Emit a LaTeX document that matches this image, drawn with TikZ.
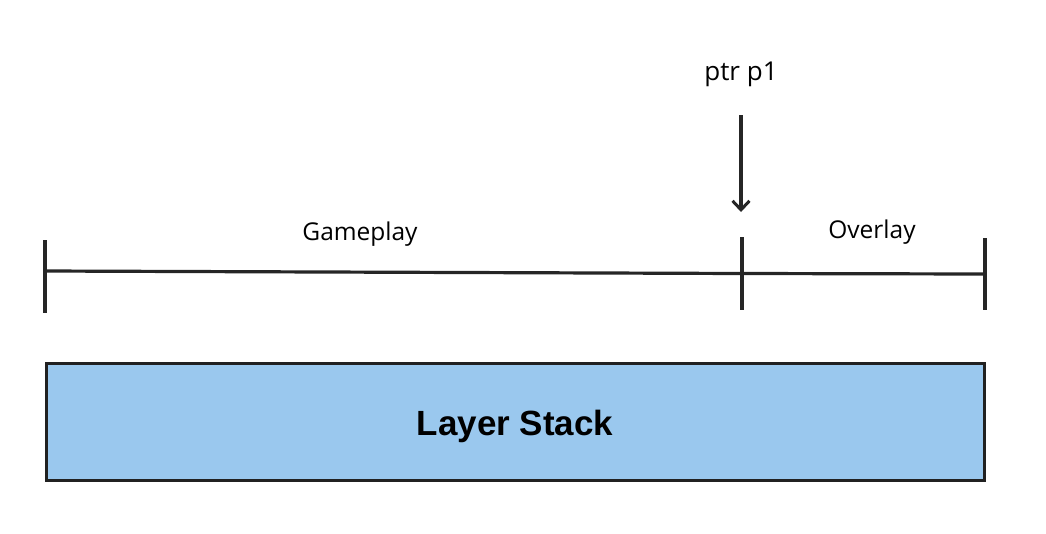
\documentclass[tikz,border=0pt]{standalone}
\usepackage{fontspec}
\setmainfont{Open Sans}
\newfontfamily\boxfont{Liberation Sans}
\usetikzlibrary{arrows.meta}

\begin{document}
\begin{tikzpicture}[x=1pt, y=-1pt,
        axis/.style={line width=3.2pt, draw=black!85},
        tick/.style={line width=3.2pt, draw=black!85},
        label/.style={font=\fontsize{24.5}{28}\selectfont, inner sep=0pt},
        stack/.style={rectangle, draw=black!87, line width=3pt, fill=stackblue, minimum width=938pt, minimum height=117pt, text height=27pt, text depth=0pt, font=\boxfont\bfseries\fontsize{35}{40}\selectfont}]
        \definecolor{stackblue}{HTML}{9AC8EE}
        \useasboundingbox (0,0) rectangle (1046,533);

        % the two regions of the stack
        \coordinate (gstart) at (45,271);
        \coordinate (split) at (742,273.5);
        \coordinate (ostop) at (985,274);
        \draw[axis] (gstart) -- (split) -- (ostop);

        \draw[tick] (45,240) -- (45,313);
        \draw[tick] (742,237) -- (742,310);
        \draw[tick] (985,238) -- (985,310);

        \node[label] (game) at (360,234) {Gameplay};
        \node[label] (over) at (872,232) {Overlay};

        % pointer
        \node[label, font=\fontsize{26}{30}\selectfont] (ptr) at (741,74) {ptr p1};
        \coordinate (ptrtail) at (741,115);
        \coordinate (ptrtip) at (741,212);
        \draw[axis, -{Straight Barb[length=9pt,width=17pt,line width=3pt]}] (ptrtail) -- (ptrtip);

        \node[stack] (layers) at (515,421.5) {Layer Stack};

    \end{tikzpicture}
\end{document}
